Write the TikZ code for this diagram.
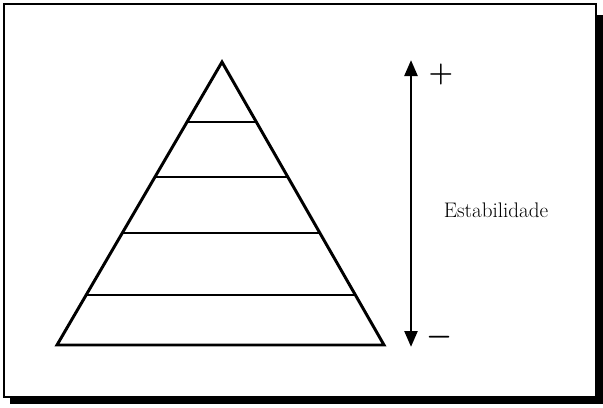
\documentclass[tikz,border=0pt]{standalone}
\usepackage{tikz}
\usetikzlibrary{arrows.meta,positioning,calc}

\begin{document}
\begin{tikzpicture}[
    x=0.025cm, y=-0.025cm,
    frame/.style={draw, line width=1.3pt},
    shadow/.style={fill=black},
    tri/.style={draw, line width=2.1pt, line join=miter},
    layer/.style={draw, line width=2.1pt},
    arr/.style={{Triangle[length=4mm, width=3.2mm]}-{Triangle[length=4mm, width=3.2mm]}, line width=2.1pt},
    sign/.style={font=\fontsize{20}{24}\selectfont\boldmath\bfseries, inner sep=0pt},
    lbl/.style={font=\fontsize{15}{18}\selectfont, inner sep=0pt},
]
\useasboundingbox (0,0) rectangle (603,407);
% Frame and shadow
\fill[shadow] (10,397) rectangle (603,404);
\fill[shadow] (596,15) rectangle (603,404);
\draw[frame, fill=white] (4,4) rectangle (596,397);

% Pyramid
\coordinate (apex) at (222,62);
\coordinate (bl) at (57,345);
\coordinate (br) at (384,345);
\draw[tri] (apex) -- (bl) -- (br) -- cycle;
\foreach \yy in {122,177,233,295} {
  \draw[layer] ($(apex)!{(\yy-62)/283}!(bl)$) -- ($(apex)!{(\yy-62)/283}!(br)$);
}

% Stability arrow
\coordinate (top) at (411,60);
\coordinate (bot) at (411,347);
\draw[arr] (bot) -- (top);
\node[sign] (plus) at (441,74) {+};
\node[sign] (minus) at (440,337) {$-$};
\node[lbl] (stab) at (496,210) {Estabilidade};
\end{tikzpicture}
\end{document}
